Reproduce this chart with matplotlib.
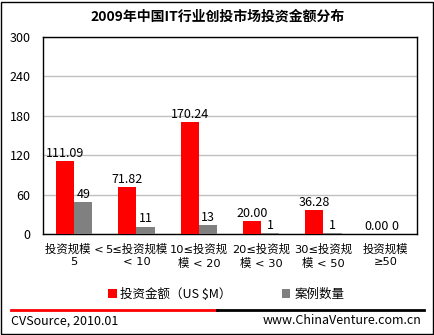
import matplotlib.pyplot as plt
from matplotlib.patches import Rectangle
from matplotlib.lines import Line2D
import numpy as np

plt.rcParams['font.family'] = ['Noto Sans CJK SC', 'DejaVu Sans']

categories = ['投资规模 <\n5', '5≤投资规模\n< 10', '10≤投资规\n模 < 20', '20≤投资规\n模 < 30', '30≤投资规\n模 < 50', '投资规模\n≥50']
amount = [111.09, 71.82, 170.24, 20.00, 36.28, 0.00]
cases = [49, 11, 13, 1, 1, 0]

fig = plt.figure(figsize=(4.35, 3.35), dpi=100)
ax = fig.add_axes([43 / 435, 1 - 234 / 335, 374 / 435, 197 / 335])

x = np.arange(len(categories))
w = 0.29
b1 = ax.bar(x - w / 2, amount, w, color='#ff0000', label='投资金额（US $M）', zorder=3)
b2 = ax.bar(x + w / 2, cases, w, color='#808080', label='案例数量', zorder=3)

for i in range(len(categories)):
    ax.text(x[i] - w / 2, amount[i] + 2, '%.2f' % amount[i], ha='center', va='bottom', fontsize=9)
    ax.text(x[i] + w / 2, cases[i] + 2, '%d' % cases[i], ha='center', va='bottom', fontsize=9)

ax.set_xlim(-0.5, 5.5)
ax.set_ylim(0, 300)
ax.set_yticks([0, 60, 120, 180, 240, 300])
ax.tick_params(axis='y', length=0, pad=9, labelsize=9)
ax.tick_params(axis='x', length=0, pad=7)
ax.set_xticks(x)
ax.set_xticklabels(categories, linespacing=1.3, fontsize=8.2,
                   family=['DejaVu Sans', 'Noto Sans CJK SC'])
ax.grid(axis='y', color='#c0c0c0', linewidth=1, zorder=0)
for s in ax.spines.values():
    s.set_color('black')
    s.set_linewidth(1)

fig.text(0.5, 1 - 17 / 335, '2009年中国IT行业创投市场投资金额分布', ha='center', va='center',
         fontsize=10, fontweight='bold')

fig.legend(handles=[b1, b2], loc='center', bbox_to_anchor=(226 / 435, 1 - 294 / 335), ncol=2,
           frameon=False, fontsize=9, handlelength=0.7, handleheight=0.7,
           columnspacing=4, handletextpad=0.3)

fig.add_artist(Line2D([11 / 435, 217 / 435], [1 - 310 / 335] * 2, color='#ff0000', linewidth=2))
fig.add_artist(Line2D([217 / 435, 424 / 435], [1 - 310 / 335] * 2, color='black', linewidth=2))
fig.text(11 / 435, 1 - 321 / 335, 'CVSource, 2010.01', ha='left', va='center', fontsize=9)
fig.text(422 / 435, 1 - 321 / 335, 'www.ChinaVenture.com.cn', ha='right', va='center', fontsize=9)

fig.add_artist(Rectangle((1 / 435, 1 / 335), 432 / 435, 332 / 335, transform=fig.transFigure,
                         fill=False, edgecolor='black', linewidth=1))

fig.savefig('out.png', dpi=100)
